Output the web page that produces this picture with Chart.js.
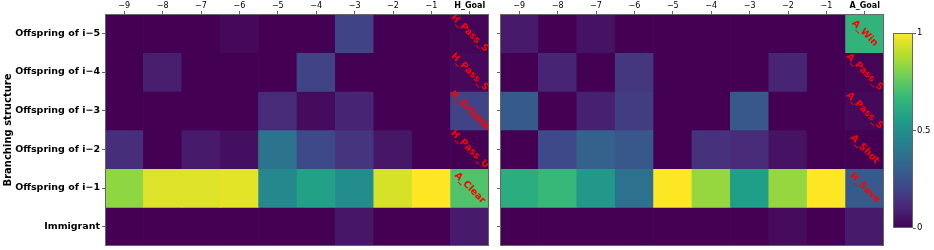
<!DOCTYPE html>
<html>
<head>
<meta charset="utf-8">
<script src="https://cdn.jsdelivr.net/npm/chart.js@4"></script>
<style>
  body { margin: 0; background: #fff; }
  .box { position: absolute; top: 0; }
</style>
</head>
<body>
<div class="box" style="left:0"><canvas id="home-chart" width="492" height="250"></canvas></div>
<div class="box" style="left:490px"><canvas id="away-chart" width="400" height="250"></canvas></div>
<div class="box" style="left:885px"><canvas id="bar-chart" width="49" height="250"></canvas></div>
<script>
// data
const lags = ['−9', '−8', '−7', '−6', '−5', '−4', '−3', '−2', '−1'];
const homeColumns = [...lags, 'H_Goal'];
const awayColumns = [...lags, 'A_Goal'];
const rowLabels = ['Offspring of i−5', 'Offspring of i−4', 'Offspring of i−3', 'Offspring of i−2', 'Offspring of i−1', 'Immigrant'];

// rows top to bottom
const homeValues = [
    [0.0, 0.0, 0.0, 0.02, 0.0, 0.0, 0.2, 0.0, 0.0, 0.01],
    [0.0, 0.08, 0.0, 0.0, 0.0, 0.2, 0.0, 0.0, 0.0, 0.02],
    [0.0, 0.0, 0.0, 0.0, 0.12, 0.03, 0.1, 0.0, 0.0, 0.2],
    [0.13, 0.0, 0.07, 0.04, 0.38, 0.22, 0.15, 0.06, 0.0, 0.0],
    [0.83, 0.95, 0.95, 0.96, 0.47, 0.57, 0.49, 0.94, 1.0, 0.72],
    [0.0, 0.0, 0.0, 0.0, 0.0, 0.0, 0.06, 0.0, 0.0, 0.07]
];
const awayValues = [
    [0.07, 0.0, 0.05, 0.0, 0.0, 0.0, 0.0, 0.0, 0.0, 0.65],
    [0.0, 0.1, 0.0, 0.16, 0.0, 0.0, 0.0, 0.1, 0.0, 0.01],
    [0.28, 0.0, 0.09, 0.18, 0.0, 0.0, 0.27, 0.0, 0.0, 0.02],
    [0.0, 0.22, 0.31, 0.27, 0.0, 0.14, 0.12, 0.05, 0.0, 0.0],
    [0.62, 0.67, 0.53, 0.37, 1.0, 0.84, 0.56, 0.84, 1.0, 0.28],
    [0.0, 0.0, 0.0, 0.0, 0.0, 0.0, 0.0, 0.03, 0.0, 0.07]
];
const homeNotes = ['H_Pass_S', 'H_Pass_S', 'H_Dribble', 'H_Pass_U', 'A_Clear', ''];
const awayNotes = ['A_Win', 'A_Pass_S', 'A_Pass_S', 'A_Shot', 'H_Save', ''];
const colorbarTicks = [0, 0.5, 1];

const FONT = 'DejaVu Sans';
const AXIS_COLOR = '#666';

// viridis
const viridisStops = [
    [68, 1, 84], [72, 40, 120], [62, 74, 137], [49, 104, 142], [38, 130, 142],
    [31, 158, 137], [53, 183, 121], [110, 206, 88], [181, 222, 43], [253, 231, 37]
];
function viridis(v) {
    v = Math.max(0, Math.min(1, v));
    const p = v * 9;
    const i = Math.min(8, Math.floor(p));
    const t = p - i;
    const a = viridisStops[i], b = viridisStops[i + 1];
    const c = a.map((x, k) => Math.round(x + (b[k] - x) * t));
    return `rgb(${c[0]},${c[1]},${c[2]})`;
}

// box around plot + red notes in the last column
const framePlugin = {
    id: 'frame',
    afterDatasetsDraw(chart, args, opts) {
        const {ctx, chartArea: a, scales} = chart;
        ctx.save();
        ctx.beginPath();
        ctx.rect(a.left, a.top, a.right - a.left, a.bottom - a.top);
        ctx.clip();
        if (opts.notes) {
            ctx.fillStyle = '#ff0000';
            ctx.font = 'bold 9.5px ' + FONT;
            ctx.textAlign = 'center';
            ctx.textBaseline = 'middle';
            opts.notes.forEach((txt, k) => {
                if (!txt) return;
                const x = scales.x.getPixelForValue(9);
                const y = scales.y.getPixelForValue(k + 0.5);
                ctx.save();
                ctx.translate(x, y);
                ctx.rotate(Math.PI / 4);
                ctx.fillText(txt, 0, 0);
                ctx.restore();
            });
        }
        ctx.restore();
        ctx.save();
        ctx.strokeStyle = AXIS_COLOR;
        ctx.lineWidth = 1;
        ctx.strokeRect(Math.round(a.left) + 0.5, Math.round(a.top) + 0.5,
            Math.round(a.right - a.left) - 1, Math.round(a.bottom - a.top) - 1);
        ctx.restore();
    }
};

function heatmap(canvas, columns, values, notes, showRows, padding, yWidth) {
    const datasets = values.map((row, k) => ({
        label: rowLabels[k],
        data: row.map(() => [k, k + 1]),
        backgroundColor: row.map(v => viridis(v)),
        borderWidth: 0,
        barPercentage: 1,
        categoryPercentage: 1
    }));
    return new Chart(canvas.getContext('2d'), {
        type: 'bar',
        data: { labels: columns, datasets },
        options: {
            responsive: false,
            animation: false,
            layout: { padding },
            plugins: {
                legend: { display: false },
                tooltip: { enabled: false },
                frame: { notes }
            },
            scales: {
                x: {
                    position: 'top',
                    stacked: true,
                    afterFit(scale) {
                        scale.height = 14;
                        scale.paddingLeft = 0;
                        scale.paddingRight = 0;
                    },
                    grid: { drawOnChartArea: false, offset: false, tickLength: 3, color: AXIS_COLOR },
                    border: { display: false },
                    ticks: {
                        padding: 0,
                        maxRotation: 0,
                        color: '#000',
                        font: ctx => ctx.index === 9
                            ? { family: FONT, size: 8, weight: 'bold' }
                            : { family: FONT, size: 8 }
                    }
                },
                y: {
                    min: 0,
                    max: 6,
                    reverse: true,
                    afterFit(scale) {
                        scale.width = yWidth;
                        scale.paddingTop = 0;
                        scale.paddingBottom = 0;
                    },
                    afterBuildTicks(scale) {
                        scale.ticks = rowLabels.map((_, k) => ({ value: k + 0.5 }));
                    },
                    grid: { drawOnChartArea: false, tickLength: 3, color: AXIS_COLOR },
                    border: { display: false },
                    title: {
                        display: showRows,
                        text: 'Branching structure',
                        color: '#000',
                        font: { family: FONT, size: 10, weight: 'bold' },
                        padding: { top: 2, bottom: 0 }
                    },
                    ticks: {
                        display: showRows,
                        padding: 2,
                        color: '#000',
                        font: { family: FONT, size: 9.5, weight: 'bold' },
                        callback: v => rowLabels[Math.floor(v)]
                    }
                }
            }
        },
        plugins: [framePlugin]
    });
}

heatmap(document.querySelector('#home-chart'), homeColumns, homeValues, homeNotes, true,
    { top: 0, right: 3, bottom: 4, left: 0 }, 105);
heatmap(document.querySelector('#away-chart'), awayColumns, awayValues, awayNotes, false,
    { top: 0, right: 6, bottom: 4, left: 0 }, 10);

// colorbar
new Chart(document.querySelector('#bar-chart').getContext('2d'), {
    type: 'bar',
    data: {
        labels: [''],
        datasets: [{
            data: [[0, 1]],
            borderWidth: 0,
            barPercentage: 1,
            categoryPercentage: 1,
            backgroundColor(ctx) {
                const a = ctx.chart.chartArea;
                if (!a) return viridis(0.5);
                const g = ctx.chart.ctx.createLinearGradient(0, a.bottom, 0, a.top);
                viridisStops.forEach((_, i) => g.addColorStop(i / 9, viridis(i / 9)));
                return g;
            }
        }]
    },
    options: {
        responsive: false,
        animation: false,
        layout: { padding: { top: 33, right: 0, bottom: 22, left: 8 } },
        plugins: { legend: { display: false }, tooltip: { enabled: false }, frame: {} },
        scales: {
            x: { display: false },
            y: {
                position: 'right',
                min: 0,
                max: 1,
                afterFit(scale) {
                    scale.width = 21;
                    scale.paddingTop = 0;
                    scale.paddingBottom = 0;
                },
                afterBuildTicks(scale) {
                    scale.ticks = colorbarTicks.map(v => ({ value: v }));
                },
                grid: { drawOnChartArea: false, tickLength: 3, color: AXIS_COLOR },
                border: { display: false },
                ticks: {
                    padding: 1,
                    color: '#000',
                    font: { family: FONT, size: 8.5 },
                    callback: v => String(v)
                }
            }
        }
    },
    plugins: [framePlugin]
});
</script>
</body>
</html>
